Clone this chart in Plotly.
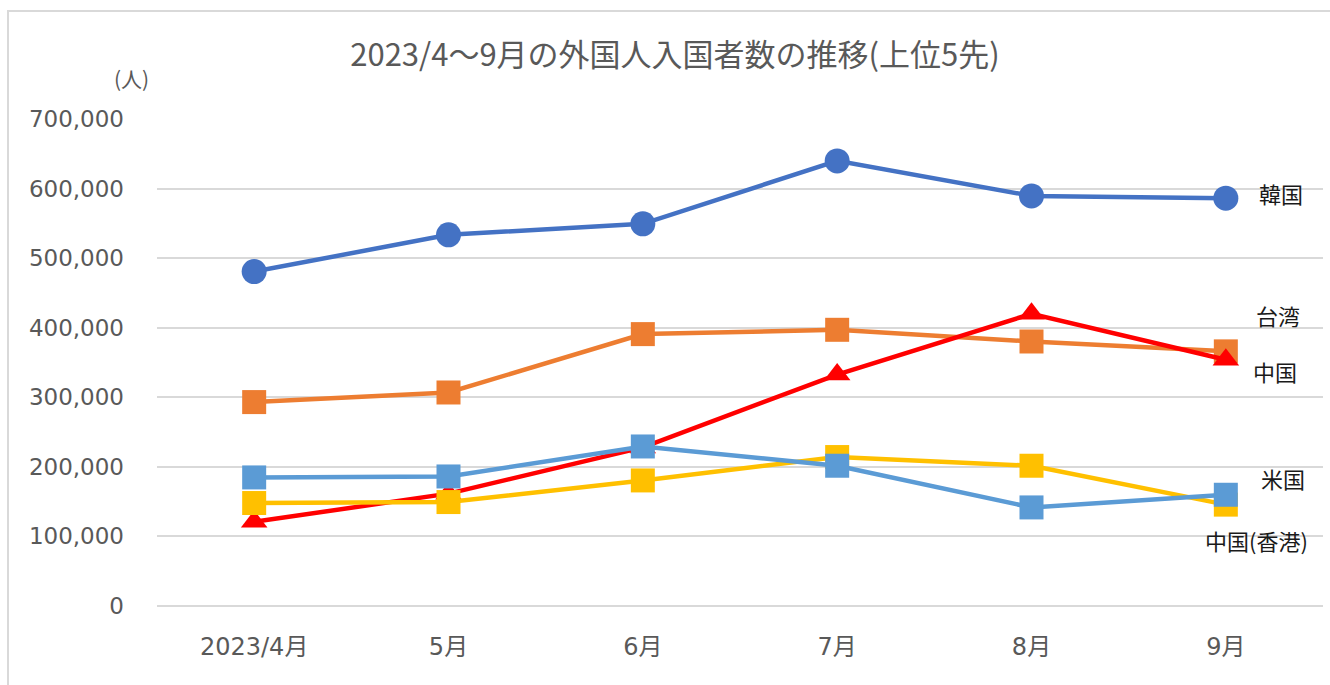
import plotly.graph_objects as go

months = ["2023/4月", "5月", "6月", "7月", "8月", "9月"]
korea = [480700, 533500, 549300, 639800, 589500, 586200]
taiwan = [293100, 306900, 390800, 397000, 380200, 366000]
china = [121000, 161500, 228000, 332700, 420000, 354000]
hongkong = [148000, 149400, 180500, 214100, 201600, 145700]
usa = [184800, 186200, 229300, 201600, 141700, 159900]

W, H = 1330, 685
L, R, T, B = 157, 1323, 119, 606

def px(x):
    return (x - L) / (R - L)

def py(y):
    return (B - y) / (B - T)

fig = go.Figure()
series = [
    ("韓国", korea, "#4472C4", "circle", 25),
    ("台湾", taiwan, "#ED7D31", "square", 24),
    ("中国", china, "#FF0000", "triangle-up", 23),
    ("中国(香港)", hongkong, "#FFC000", "square", 24),
    ("米国", usa, "#5B9BD5", "square", 24),
]
for name, vals, col, sym, sz in series:
    fig.add_trace(go.Scatter(x=months, y=vals, name=name, mode="lines+markers",
                             line=dict(color=col, width=4.5),
                             marker=dict(symbol=sym, size=sz, color=col)))

labels = [("韓国", 1281, 193), ("台湾", 1278, 315), ("中国", 1275, 371),
          ("米国", 1283, 478), ("中国(香港)", 1256, 540)]
ann = []
for t, x, y in labels:
    ann.append(dict(text=t, x=px(x), y=py(y), xref="paper", yref="paper",
                    xanchor="center", yanchor="middle", showarrow=False,
                    font=dict(size=22, color="#1a1a1a", family="Noto Sans CJK JP")))
ann.append(dict(text="(人)", x=px(131), y=py(78), xref="paper", yref="paper",
                xanchor="center", yanchor="middle", showarrow=False,
                font=dict(size=21, color="#595959", family="Noto Sans CJK JP")))

fig.update_layout(
    width=W, height=H,
    margin=dict(l=L, r=W - R, t=T, b=H - B),
    paper_bgcolor="white", plot_bgcolor="white",
    showlegend=False,
    title=dict(text="2023/4～9月の外国人入国者数の推移(上位5先)", x=675 / W, xanchor="center",
               y=1 - 55 / H, yanchor="middle",
               font=dict(size=31, color="#595959", family="Noto Sans CJK JP")),
    annotations=ann,
    shapes=[dict(type="rect", xref="paper", yref="paper",
                 x0=px(8), x1=px(1345), y0=py(700), y1=py(11),
                 line=dict(color="#D9D9D9", width=2), layer="below")],
    font=dict(family="DejaVu Sans, Noto Sans CJK JP", color="#595959"),
)
fig.update_xaxes(type="category", range=[-0.5, 5.5], showgrid=False, showline=False,
                 ticks="", ticklabelstandoff=24,
                 tickfont=dict(size=24, color="#595959", family="DejaVu Sans, Noto Sans CJK JP"))
fig.update_yaxes(range=[0, 700000], dtick=100000, tickformat=",d", showgrid=True,
                 gridcolor="#D9D9D9", gridwidth=1.5, zeroline=True, zerolinecolor="#D9D9D9",
                 zerolinewidth=1.5, showline=False, ticks="", ticklabelstandoff=32,
                 tickfont=dict(size=23, color="#595959", family="DejaVu Sans"))

fig.write_html("out.html", config={"displayModeBar": False},
               post_script="document.body.style.margin='0';")
